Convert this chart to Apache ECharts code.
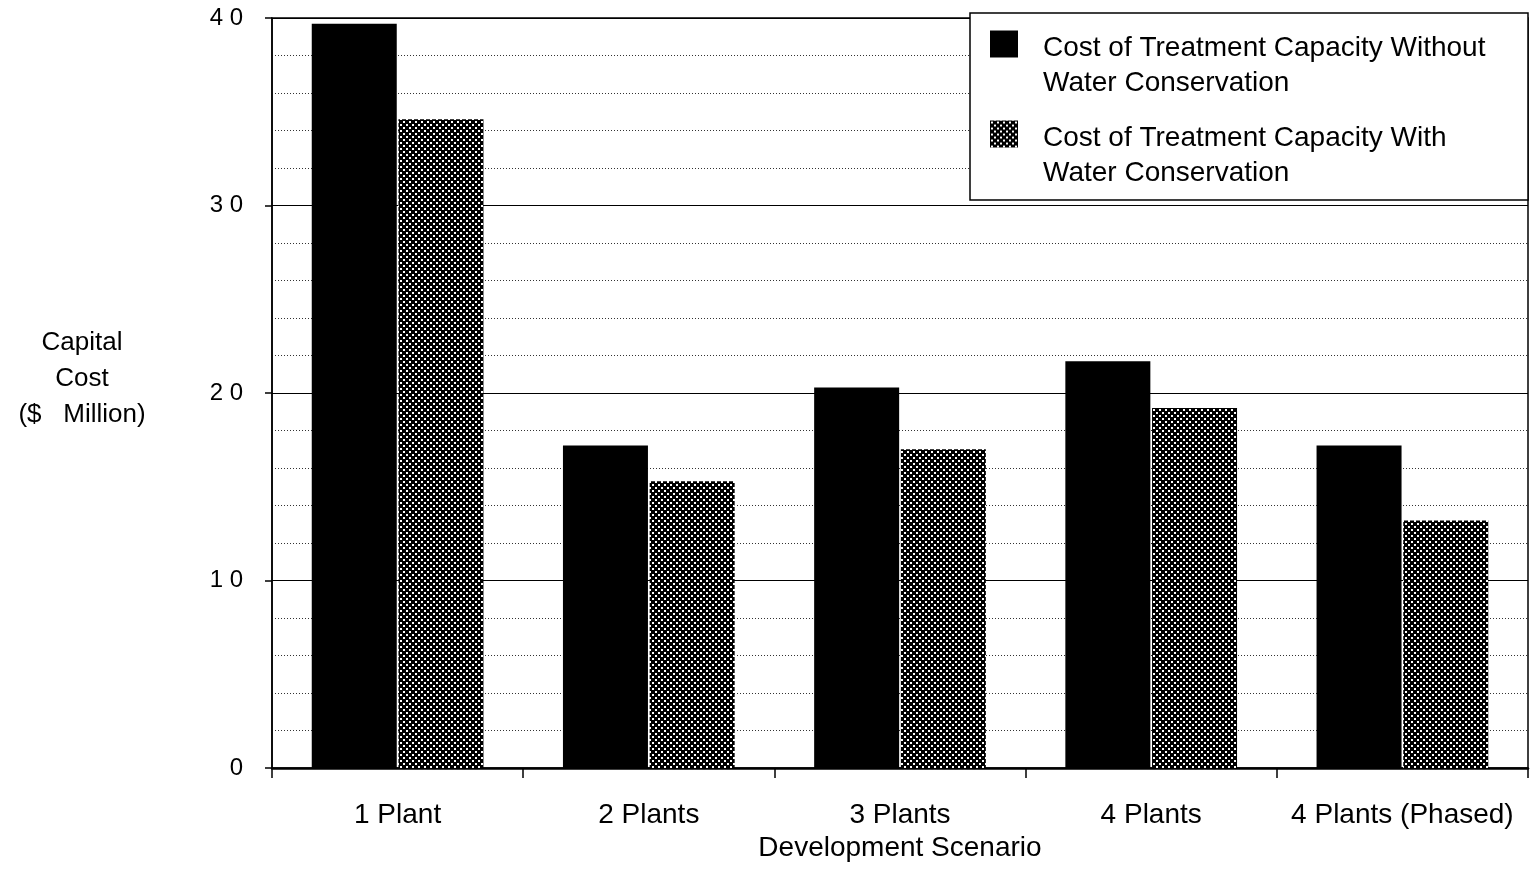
<!DOCTYPE html>
<html>
<head>
<meta charset="utf-8">
<script src="https://cdn.jsdelivr.net/npm/echarts@6/dist/echarts.min.js"></script>
<style>
html,body{margin:0;padding:0;background:#fff;}
#chart{width:1534px;height:871px;}
</style>
</head>
<body>
<div id="chart"></div>
<script>
const categories = ['1 Plant', '2 Plants', '3 Plants', '4 Plants', '4 Plants (Phased)'];
const seriesNames = ['Cost of Treatment Capacity Without Water Conservation',
                     'Cost of Treatment Capacity With Water Conservation'];
const withoutConservation = [39.7, 17.2, 20.3, 21.7, 17.2];
const withConservation = [34.6, 15.3, 17.0, 19.2, 13.2];
const yTicks = { min: 0, max: 40, interval: 10 };

const FONT = '"Liberation Sans", Arial, Helvetica, sans-serif';

// stipple pattern: black with white dots
const pc = document.createElement('canvas');
pc.width = 6; pc.height = 6;
const g = pc.getContext('2d');
g.fillStyle = '#000'; g.fillRect(0, 0, 6, 6);
g.fillStyle = '#fff';
g.fillRect(1, 1, 2, 2);
g.fillRect(4, 4, 2, 2);

const chart = echarts.init(document.getElementById('chart'), null, { renderer: 'canvas' });

const legendLines = {};
legendLines[seriesNames[0]] = ['Cost of Treatment Capacity Without', 'Water Conservation'];
legendLines[seriesNames[1]] = ['Cost of Treatment Capacity With', 'Water Conservation'];

chart.setOption({
  animation: false,
  backgroundColor: '#fff',
  textStyle: { fontFamily: FONT, color: '#000' },
  grid: {
    left: 272, right: 6, top: 18, bottom: 103,
    show: true, borderColor: '#000', borderWidth: 1.5, backgroundColor: 'transparent'
  },
  graphic: [{
    type: 'rect',
    z: 3,
    shape: { x: 970, y: 13, width: 558, height: 187 },
    style: { fill: '#fff', stroke: '#000', lineWidth: 1.5 }
  }],
  legend: {
    orient: 'vertical',
    left: 990, top: -5,
    padding: 0,
    icon: 'rect',
    itemWidth: 28, itemHeight: 27,
    itemGap: -12,
    itemStyle: { borderWidth: 0 },
    selectedMode: false,
    formatter: function (name) {
      const l = legendLines[name];
      return '{g| }\n{t|' + l[0] + '}\n{t|' + l[1] + '}';
    },
    textStyle: {
      fontFamily: FONT, fontSize: 28, color: '#000', padding: [0, 0, 0, 20],
      rich: {
        g: { fontFamily: FONT, fontSize: 28, lineHeight: 43 },
        t: { fontFamily: FONT, fontSize: 28, lineHeight: 35, color: '#000' }
      }
    },
    data: seriesNames
  },
  xAxis: {
    type: 'category',
    data: categories,
    name: 'Development Scenario',
    nameLocation: 'middle',
    nameGap: 57,
    nameTextStyle: { fontFamily: FONT, fontSize: 28, color: '#000' },
    axisLine: { lineStyle: { color: '#000', width: 2.5 } },
    axisTick: { show: true, interval: 0, length: 10, lineStyle: { color: '#000', width: 1.5 } },
    axisLabel: { interval: 0, fontFamily: FONT, fontSize: 28, color: '#000', margin: 33 },
    splitLine: { show: false }
  },
  yAxis: {
    type: 'value',
    min: yTicks.min, max: yTicks.max, interval: yTicks.interval,
    name: '{a|Capital}\n{a|Cost}\n{a|($   Million)}\n{b| }',
    nameLocation: 'middle',
    nameRotate: 0,
    nameGap: 190,
    nameTextStyle: {
      fontFamily: FONT, fontSize: 26, color: '#000', align: 'center', verticalAlign: 'middle',
      rich: {
        a: { fontFamily: FONT, fontSize: 26, lineHeight: 36, color: '#000', align: 'center' },
        b: { fontFamily: FONT, fontSize: 26, lineHeight: 28 }
      }
    },
    axisLine: { show: true, lineStyle: { color: '#000', width: 1.5 } },
    axisTick: { show: true, length: 7, lineStyle: { color: '#000', width: 1.5 } },
    axisLabel: {
      fontFamily: FONT, fontSize: 24, color: '#000', margin: 29,
      formatter: function (v) { return String(v).split('').join(' '); }
    },
    splitLine: { show: true, lineStyle: { color: '#000', width: 1 } },
    minorTick: { show: false, splitNumber: 5 },
    minorSplitLine: { show: true, lineStyle: { color: '#333', width: 1, type: [1, 2] } }
  },
  series: [
    {
      name: seriesNames[0],
      type: 'bar',
      data: withoutConservation,
      barWidth: 85,
      barGap: '2%',
      itemStyle: { color: '#000' }
    },
    {
      name: seriesNames[1],
      type: 'bar',
      data: withConservation,
      barWidth: 85,
      barGap: '2%',
      itemStyle: { color: { image: pc, repeat: 'repeat' } }
    }
  ]
});
</script>
</body>
</html>
